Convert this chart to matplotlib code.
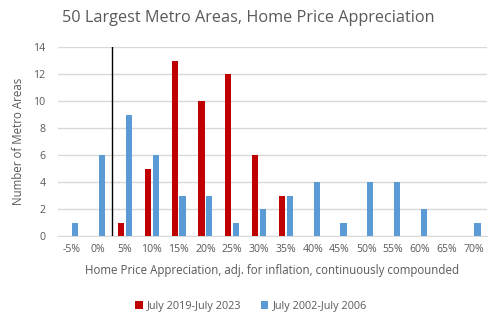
import matplotlib
matplotlib.use("Agg")
import matplotlib.pyplot as plt
import numpy as np

categories = ["-5%", "0%", "5%", "10%", "15%", "20%", "25%", "30%", "35%",
              "40%", "45%", "50%", "55%", "60%", "65%", "70%"]
recent = [0, 0, 1, 5, 13, 10, 12, 6, 3, 0, 0, 0, 0, 0, 0, 0]
bubble = [1, 6, 9, 6, 3, 3, 1, 2, 3, 4, 1, 4, 4, 2, 0, 1]
recent_label = "July 2019-July 2023"
bubble_label = "July 2002-July 2006"
marker_line_pos = 1.5  # boundary between 0% and 5%

plt.rcParams['font.family'] = ['Open Sans', 'DejaVu Sans']
txt = '#595959'
W, H = 502, 323
fig = plt.figure(figsize=(W/100, H/100), dpi=100)
ax = fig.add_axes([58/W, 1-236/H, (487-58)/W, (236-47)/H])

x = np.arange(len(categories))
bw = 0.23
ax.bar(x - 0.145, recent, width=bw, color='#c00000', label=recent_label, zorder=3)
ax.bar(x + 0.145, bubble, width=bw, color='#5b9bd5', label=bubble_label, zorder=3)
ax.axvline(marker_line_pos, color='black', lw=1, zorder=4)

fs = 8.3
tfs = 7.6
ax.set_xlim(-0.5, len(categories) - 0.5)
ax.set_ylim(0, 14)
ax.set_yticks(range(0, 15, 2))
ax.set_xticks(x)
ax.set_xticklabels(categories)
ax.grid(axis='y', color='#d9d9d9', lw=1, zorder=0)
for s in ['top', 'right', 'left']:
    ax.spines[s].set_visible(False)
ax.spines['bottom'].set_color('#d9d9d9')
ax.tick_params(axis='both', length=0, colors=txt, labelsize=tfs)
ax.tick_params(axis='x', pad=6)
ax.tick_params(axis='y', pad=9)
ax.set_ylabel("Number of Metro Areas", color=txt, fontsize=fs, labelpad=6)
ax.set_xlabel("Home Price Appreciation, adj. for inflation, continuously compounded",
              color=txt, fontsize=fs, labelpad=6)
fig.text(62/W, 1-18/H, "50 Largest Metro Areas, Home Price Appreciation",
         color=txt, fontsize=11.7, va='center', ha='left')
fig.legend(loc='center', bbox_to_anchor=(0.5, 1-306/H), ncol=2, frameon=False,
           fontsize=7.8, labelcolor=txt, handlelength=0.7, handleheight=0.7,
           columnspacing=1.8, handletextpad=0.4)
fig.savefig("out.png", dpi=100)
